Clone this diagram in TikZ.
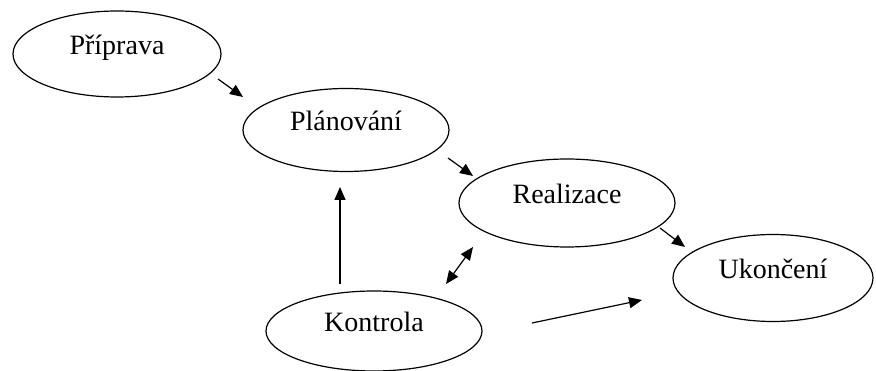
\documentclass[tikz,border=0pt]{standalone}
\usepackage{fontspec}
\setmainfont{Liberation Serif}
\usetikzlibrary{arrows.meta, shapes.geometric, calc}

\begin{document}
\begin{tikzpicture}[x=1pt, y=-1pt, every node/.style={font=\fontsize{28}{34}\selectfont},
                    phase/.style={ellipse, draw, line width=1.2pt, inner sep=0pt,
                                  text height=0.75em, text depth=0.55em},
                    arr/.style={-{Triangle[length=13pt,width=11pt]}, line width=1.2pt},
                    darr/.style={{Triangle[length=13pt,width=11pt]}-{Triangle[length=13pt,width=11pt]}, line width=1.2pt}]
    \useasboundingbox (0,0) rectangle (876,371);
    \node (pri)  [phase, minimum width=208, minimum height=86] at (117,54)  {Příprava};
    \node (plan) [phase, minimum width=206, minimum height=83] at (346,130) {Plánování};
    \node (real) [phase, minimum width=216, minimum height=88] at (567,203) {Realizace};
    \node (ukon) [phase, minimum width=200, minimum height=87] at (773,278) {Ukončení};
    \node (kon)  [phase, minimum width=216, minimum height=80] at (374,331) {Kontrola};
    \draw[arr] ($(pri)+(101,25)$) -- ($(plan)+(-103,-33)$);
    \draw[arr] ($(plan)+(102,28)$) -- ($(real)+(-94,-27)$);
    \draw[arr] ($(real)+(93,25)$) -- ($(ukon)+(-88,-31)$);
    \draw[arr] ($(kon)+(-34,-47)$) -- ($(plan)+(-6,57)$);
    \draw[darr] ($(kon)+(72,-47)$) -- ($(real)+(-94,44)$);
    \draw[arr] ($(kon)+(158,-8)$) -- ($(ukon)+(-131,22)$);
  \end{tikzpicture}
\end{document}
